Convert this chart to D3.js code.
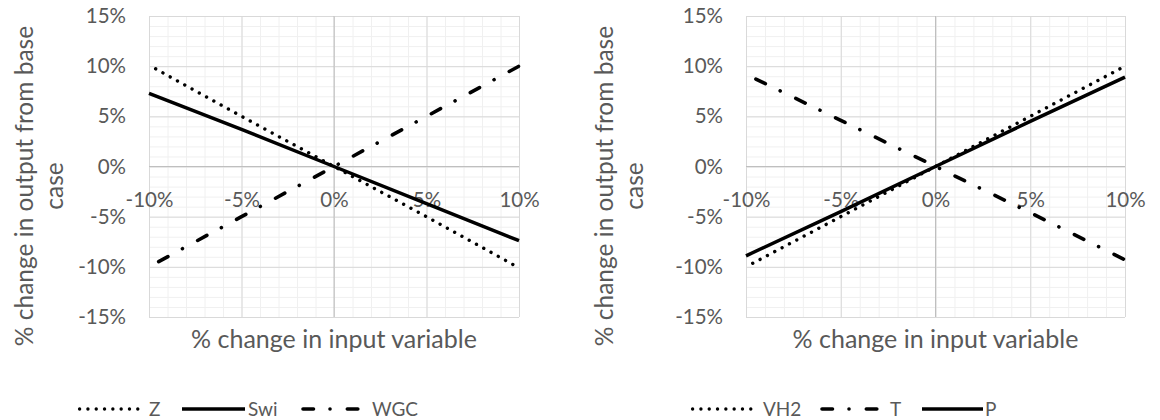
<!DOCTYPE html>
<html>
<head>
<meta charset="utf-8">
<script src="https://cdn.jsdelivr.net/npm/d3@7"></script>
<style>
  body { margin: 0; background: #fff; }
  svg { font-family: Lato, "Liberation Sans", sans-serif; }
</style>
</head>
<body>
<svg width="1160" height="420"></svg>
<script>
// values (fractions, shown as %)
var xValues = [-0.10, -0.05, 0, 0.05, 0.10];

var leftNames = ["Z", "Swi", "WGC"];
var zValues   = [0.101, 0.050, 0, -0.050, -0.101];
var swiValues = [0.073, 0.037, 0, -0.037, -0.074];
var wgcValues = [-0.100, -0.050, 0, 0.050, 0.100];

var rightNames = ["VH2", "T", "P"];
var vh2Values = [-0.100, -0.050, 0, 0.050, 0.100];
var tValues   = [0.092, 0.046, 0, -0.046, -0.093];
var pValues   = [-0.089, -0.045, 0, 0.045, 0.089];

var xTicks = [-0.10, -0.05, 0, 0.05, 0.10];
var yTicks = [-0.15, -0.10, -0.05, 0, 0.05, 0.10, 0.15];
var xMinor = d3.range(-10, 11).map(d => d / 100);
var yMinor = d3.range(-15, 16).map(d => d / 100);

var xTitle = "% change in input variable";
var yTitle = ["% change in output from base", "case"];

// line looks, Excel style patterns start with a gap
var styles = {
  dot:     { width: 3.4, dash: "0.01,8.3", offset: 0.7 },
  solid:   { width: 3.5, dash: null, offset: 0 },
  dashdot: { width: 3.6, dash: "10.5,16.5,0.01,17.3", offset: 33.3 }
};

var textColor = "#595959";
// plain hyphen for negatives, like the original
var pct = d3.formatLocale({
  decimal: ".", thousands: ",", grouping: [3],
  currency: ["$", ""], minus: "-", percent: "%"
}).format(".0%");
var svg = d3.select("svg");

function drawChart(cfg) {
  var g = svg.append("g");

  var xScale = d3.scaleLinear().domain([-0.10, 0.10]).range([cfg.left, cfg.right]);
  var yScale = d3.scaleLinear().domain([-0.15, 0.15]).range([317, 16]);

  //minor grid
  g.append("g")
      .attr("transform", "translate(0,16)")
      .call(d3.axisBottom(xScale).tickValues(xMinor).tickSize(301).tickFormat(""))
      .call(s => s.select(".domain").remove())
      .selectAll("line").attr("stroke", "#f0f0f0");
  g.append("g")
      .attr("transform", "translate(" + cfg.left + ",0)")
      .call(d3.axisLeft(yScale).tickValues(yMinor).tickSize(-(cfg.right - cfg.left)).tickFormat(""))
      .call(s => s.select(".domain").remove())
      .selectAll("line").attr("stroke", "#f0f0f0");

  //major grid
  g.append("g")
      .attr("transform", "translate(0,16)")
      .call(d3.axisBottom(xScale).tickValues(xTicks).tickSize(301).tickFormat(""))
      .call(s => s.select(".domain").remove())
      .selectAll("line").attr("stroke", "#d9d9d9");
  g.append("g")
      .attr("transform", "translate(" + cfg.left + ",0)")
      .call(d3.axisLeft(yScale).tickValues(yTicks).tickSize(-(cfg.right - cfg.left)).tickFormat(""))
      .call(s => s.select(".domain").remove())
      .selectAll("line").attr("stroke", "#d9d9d9");

  // zero axis lines
  g.append("line")
      .attr("x1", xScale(0)).attr("x2", xScale(0))
      .attr("y1", yScale(0.15)).attr("y2", yScale(-0.15))
      .attr("stroke", "#bfbfbf");
  g.append("line")
      .attr("x1", cfg.left).attr("x2", cfg.right)
      .attr("y1", yScale(0)).attr("y2", yScale(0))
      .attr("stroke", "#bfbfbf");

  // y tick labels
  var yAxis = g.append("g")
      .attr("transform", "translate(" + cfg.left + ",0)")
      .call(d3.axisLeft(yScale).tickValues(yTicks).tickSize(0).tickPadding(23).tickFormat(pct));
  yAxis.select(".domain").remove();
  yAxis.selectAll("text")
      .attr("font-family", "Lato").attr("font-size", 20.5).attr("fill", textColor);

  // x tick labels, hanging below the 0% line
  var xAxis = g.append("g")
      .attr("transform", "translate(0," + yScale(0) + ")")
      .call(d3.axisBottom(xScale).tickValues(xTicks).tickSize(0).tickPadding(26).tickFormat(pct));
  xAxis.select(".domain").remove();
  xAxis.selectAll("text")
      .attr("font-family", "Lato").attr("font-size", 20.5).attr("fill", textColor);

  // series
  var line = d3.line()
      .x((d, i) => xScale(xValues[i]))
      .y(d => yScale(d));

  cfg.series.forEach(function(s) {
    var st = styles[s.style];
    g.append("path")
        .datum(s.values)
        .attr("d", line)
        .attr("fill", "none")
        .attr("stroke", "#000")
        .attr("stroke-width", st.width)
        .attr("stroke-linecap", st.dash ? "round" : "butt")
        .attr("stroke-dasharray", st.dash)
        .attr("stroke-dashoffset", st.offset);
  });

  // axis titles
  g.append("text")
      .attr("x", (cfg.left + cfg.right) / 2)
      .attr("y", 348)
      .attr("text-anchor", "middle")
      .attr("font-size", 25)
      .attr("fill", textColor)
      .text(xTitle);

  yTitle.forEach(function(t, i) {
    g.append("text")
        .attr("transform", "rotate(-90)")
        .attr("x", -186)
        .attr("y", cfg.titleX + i * 30)
        .attr("text-anchor", "middle")
        .attr("font-size", 24.5)
        .attr("fill", textColor)
        .text(t);
  });

  // legend
  cfg.series.forEach(function(s, i) {
    var st = styles[s.style];
    var pos = cfg.legend[i];
    g.append("line")
        .attr("x1", pos[0]).attr("x2", pos[1])
        .attr("y1", 409).attr("y2", 409)
        .attr("stroke", "#000")
        .attr("stroke-width", st.width)
        .attr("stroke-linecap", st.dash ? "round" : "butt")
        .attr("stroke-dasharray", st.dash)
        .attr("stroke-dashoffset", st.offset);
    g.append("text")
        .attr("x", pos[2])
        .attr("y", 409)
        .attr("dy", "0.36em")
        .attr("font-size", 19)
        .attr("fill", textColor)
        .text(s.name);
  });
}

drawChart({
  left: 149, right: 519, titleX: 33,
  series: [
    { name: leftNames[0], values: zValues, style: "dot" },
    { name: leftNames[1], values: swiValues, style: "solid" },
    { name: leftNames[2], values: wgcValues, style: "dashdot" }
  ],
  legend: [[72, 145, 149], [182, 245, 248], [292, 367, 372]]
});

drawChart({
  left: 746, right: 1125, titleX: 613,
  series: [
    { name: rightNames[0], values: vh2Values, style: "dot" },
    { name: rightNames[1], values: tValues, style: "dashdot" },
    { name: rightNames[2], values: pValues, style: "solid" }
  ],
  legend: [[685, 759, 763], [811, 880, 890], [922, 983, 985]]
});
</script>
</body>
</html>
